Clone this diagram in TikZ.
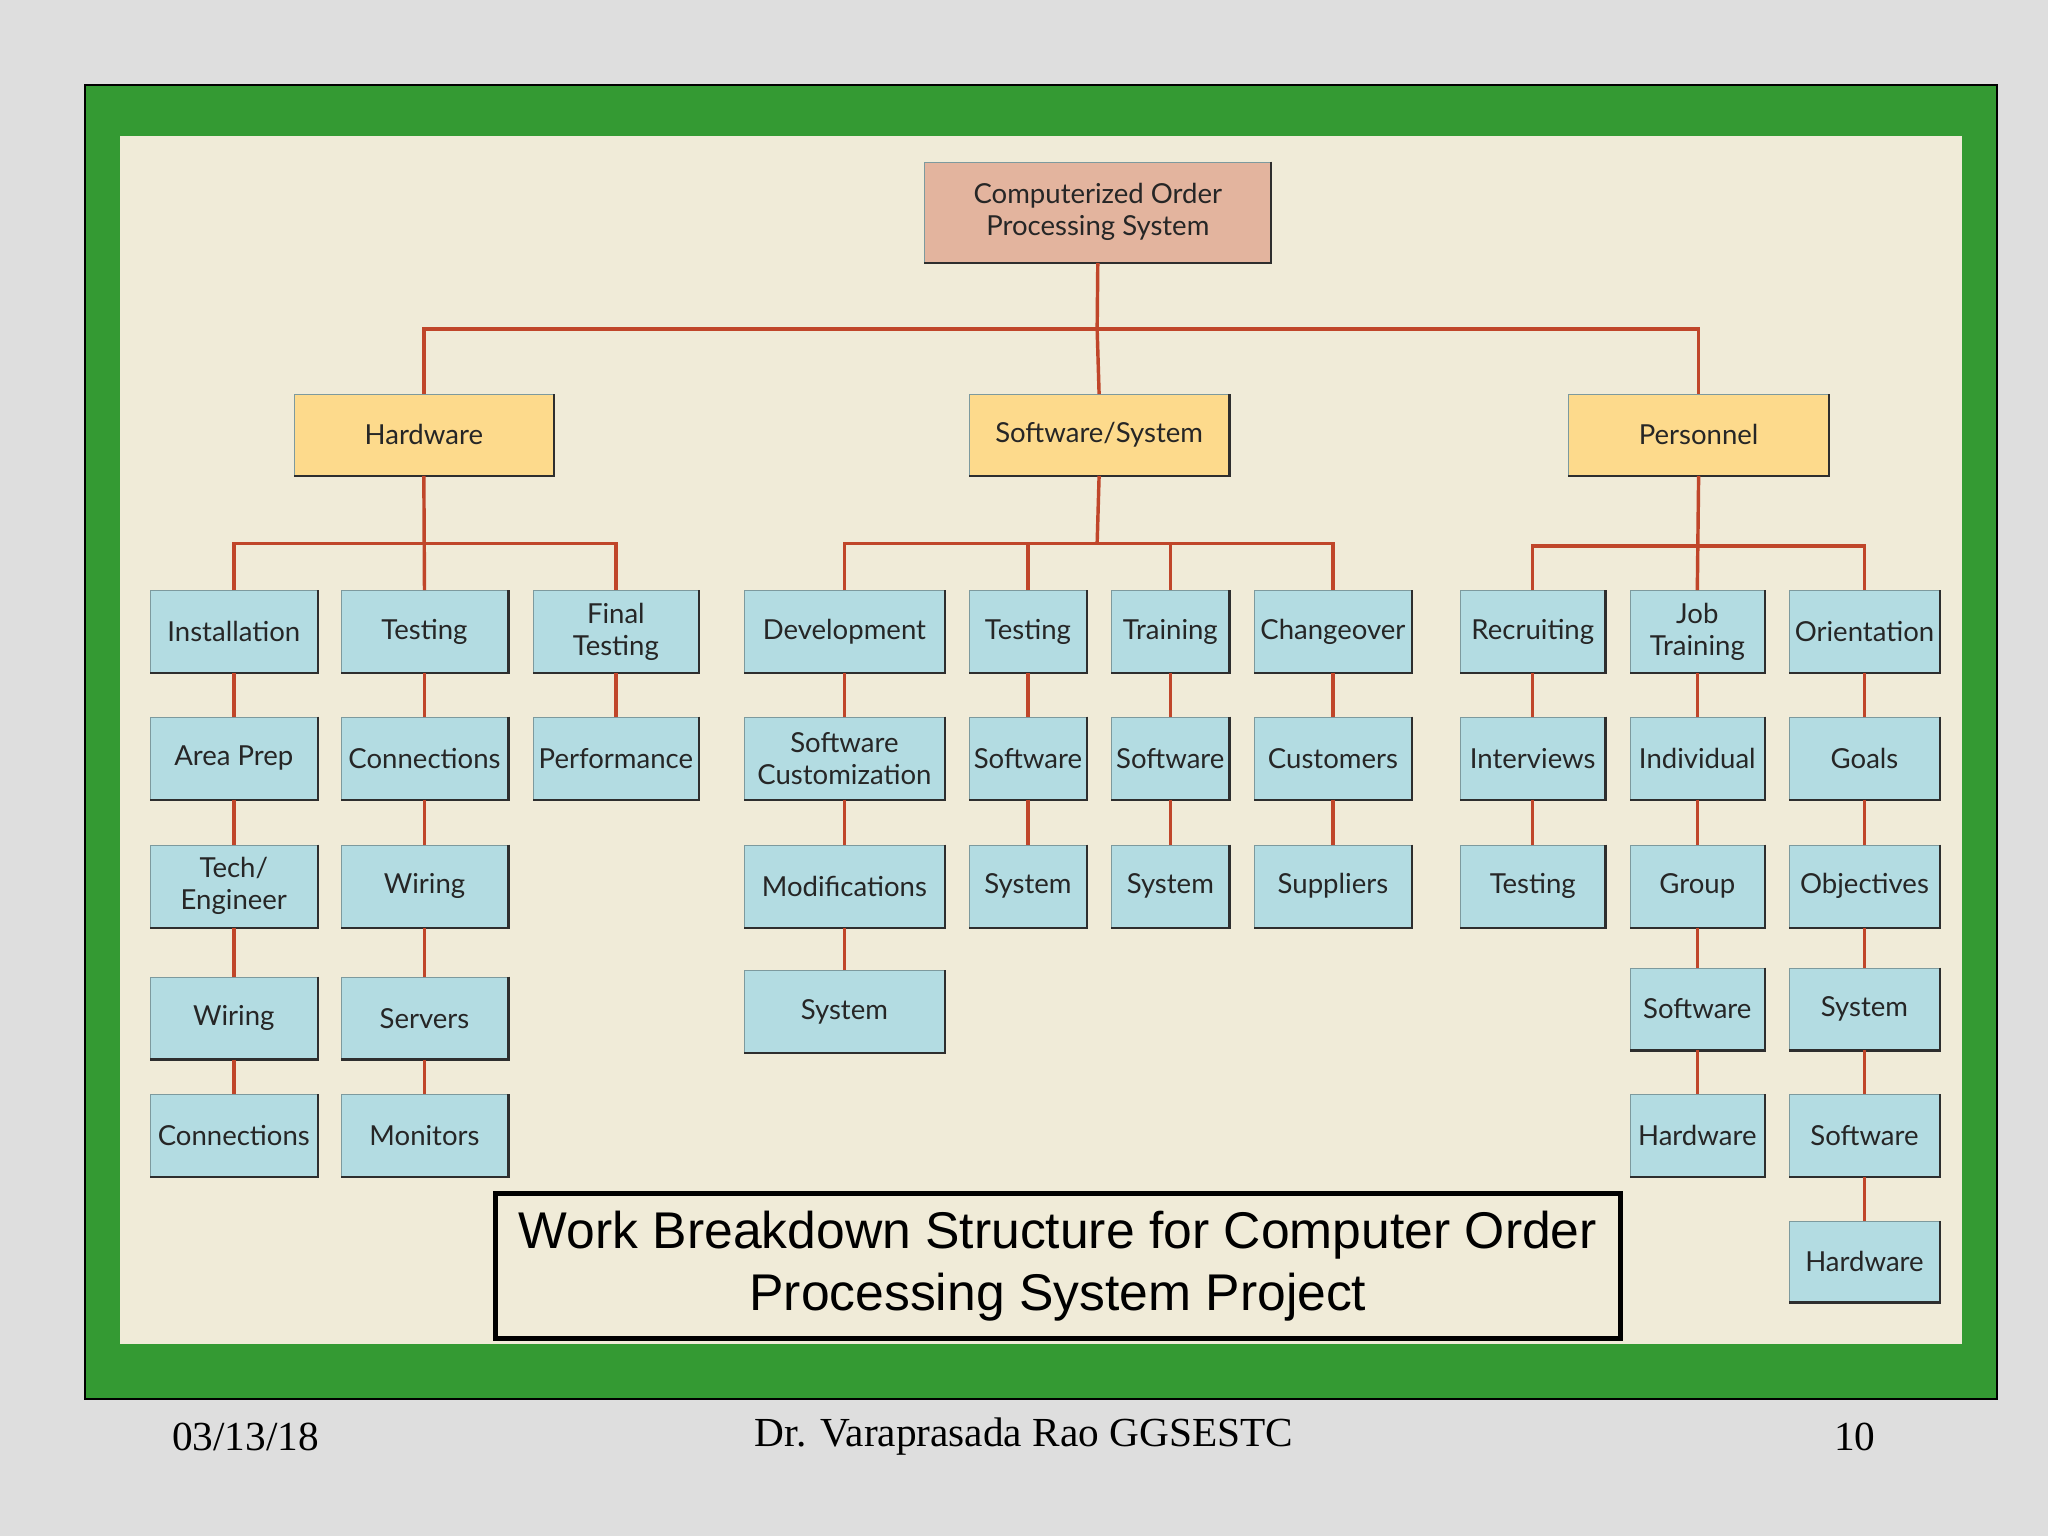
\documentclass[tikz,border=0pt]{standalone}
\usepackage{fontspec}
\setmainfont{Liberation Serif}
\newfontfamily\boxfont{Lato}
\newfontfamily\capfont{Liberation Sans}
\definecolor{bg}{HTML}{DEDEDE}
\definecolor{grn}{HTML}{349A33}
\definecolor{cream}{HTML}{F0EBD8}
\definecolor{rootc}{HTML}{E3B49E}
\definecolor{lvone}{HTML}{FDDA8C}
\definecolor{lblue}{HTML}{B3DCE2}
\definecolor{conn}{HTML}{C0462A}
\definecolor{edge}{HTML}{2E2E2E}
\tikzset{
 box/.style={draw=lblue!70!black,line width=0.3pt,inner sep=1pt,align=center,font=\boxfont\fontsize{12}{14}\selectfont,text=black!85},
 shade/.style={draw=edge,line width=1pt},
 link/.style={draw=conn,line width=1.5pt}
}
\newcommand\wbs[7]{%
 \node[box,fill=#6,minimum width={(#4-#2)*0.02cm},minimum height={(#5-#3)*0.02cm}] (#1) at ({(#2+#4)/2},{(#3+#5)/2}) {#7};
 \draw[shade] (#1.north east) -- (#1.south east) -- (#1.south west);}
\begin{document}
\begin{tikzpicture}[x=0.02cm,y=-0.02cm]
\fill[bg] (0,0) rectangle (1568,1176);
\useasboundingbox (0,0) rectangle (1568,1176);
\draw[fill=grn,draw=black,line width=0.8pt] (65,65) rectangle (1529,1071);
\fill[cream] (92,104) rectangle (1502,1029);
% root and level 1
\wbs{root}{708}{124}{973}{201}{rootc}{Computerized Order\\Processing System}
\wbs{hw}{225}{302}{424}{364}{lvone}{Hardware}
\wbs{sw}{742}{302}{941}{364}{lvone}{Software/System}
\wbs{pe}{1201}{302}{1400}{364}{lvone}{Personnel}
% hardware
\wbs{a1}{115}{452}{243}{515}{lblue}{Installation}
\wbs{a2}{115}{549}{243}{612}{lblue}{Area Prep}
\wbs{a3}{115}{647}{243}{710}{lblue}{Tech/\\Engineer}
\wbs{a4}{115}{748}{243}{811}{lblue}{Wiring}
\wbs{a5}{115}{838}{243}{901}{lblue}{Connections}
\wbs{b1}{261}{452}{389}{515}{lblue}{Testing}
\wbs{b2}{261}{549}{389}{612}{lblue}{Connections}
\wbs{b3}{261}{647}{389}{710}{lblue}{Wiring}
\wbs{b4}{261}{748}{389}{811}{lblue}{Servers}
\wbs{b5}{261}{838}{389}{901}{lblue}{Monitors}
\wbs{c1}{408}{452}{535}{515}{lblue}{Final\\Testing}
\wbs{c2}{408}{549}{535}{612}{lblue}{Performance}
% software
\wbs{d1}{570}{452}{723}{515}{lblue}{Development}
\wbs{d2}{570}{549}{723}{612}{lblue}{Software\\Customization}
\wbs{d3}{570}{647}{723}{710}{lblue}{Modifications}
\wbs{d4}{570}{743}{723}{806}{lblue}{System}
\wbs{e1}{742}{452}{832}{515}{lblue}{Testing}
\wbs{e2}{742}{549}{832}{612}{lblue}{Software}
\wbs{e3}{742}{647}{832}{710}{lblue}{System}
\wbs{f1}{851}{452}{941}{515}{lblue}{Training}
\wbs{f2}{851}{549}{941}{612}{lblue}{Software}
\wbs{f3}{851}{647}{941}{710}{lblue}{System}
\wbs{g1}{960}{452}{1081}{515}{lblue}{Changeover}
\wbs{g2}{960}{549}{1081}{612}{lblue}{Customers}
\wbs{g3}{960}{647}{1081}{710}{lblue}{Suppliers}
% personnel
\wbs{h1}{1118}{452}{1229}{515}{lblue}{Recruiting}
\wbs{h2}{1118}{549}{1229}{612}{lblue}{Interviews}
\wbs{h3}{1118}{647}{1229}{710}{lblue}{Testing}
\wbs{i1}{1248}{452}{1351}{515}{lblue}{Job\\Training}
\wbs{i2}{1248}{549}{1351}{612}{lblue}{Individual}
\wbs{i3}{1248}{647}{1351}{710}{lblue}{Group}
\wbs{i4}{1248}{741}{1351}{804}{lblue}{Software}
\wbs{i5}{1248}{838}{1351}{901}{lblue}{Hardware}
\wbs{j1}{1370}{452}{1485}{515}{lblue}{Orientation}
\wbs{j2}{1370}{549}{1485}{612}{lblue}{Goals}
\wbs{j3}{1370}{647}{1485}{710}{lblue}{Objectives}
\wbs{j4}{1370}{741}{1485}{804}{lblue}{System}
\wbs{j5}{1370}{838}{1485}{901}{lblue}{Software}
\wbs{j6}{1370}{935}{1485}{997}{lblue}{Hardware}
% connectors
\coordinate (top) at (840,252);
\draw[link] (root.south) -- (top);
\draw[link] (hw.north) -- (hw.north |- top) -- (pe.north |- top) -- (pe.north);
\draw[link] (sw.north) -- (top);
\coordinate (hb) at (324,416);
\draw[link] (hw.south) -- (b1.north);
\draw[link] (a1.north) -- (a1.north |- hb) -- (c1.north |- hb) -- (c1.north);
\coordinate (sb) at (840,416);
\draw[link] (sw.south) -- (sb);
\draw[link] (d1.north) -- (d1.north |- sb) -- (g1.north |- sb) -- (g1.north);
\draw[link] (e1.north) -- (e1.north |- sb);
\draw[link] (f1.north) -- (f1.north |- sb);
\coordinate (pb) at (1299,418);
\draw[link] (pe.south) -- (i1.north);
\draw[link] (h1.north) -- (h1.north |- pb) -- (j1.north |- pb) -- (j1.north);
\foreach \p/\q in {a1/a2,a2/a3,a3/a4,a4/a5,b1/b2,b2/b3,b3/b4,b4/b5,c1/c2,
 d1/d2,d2/d3,d3/d4,e1/e2,e2/e3,f1/f2,f2/f3,g1/g2,g2/g3,
 h1/h2,h2/h3,i1/i2,i2/i3,i3/i4,i4/i5,j1/j2,j2/j3,j3/j4,j4/j5,j5/j6}
 \draw[link] (\p.south) -- (\q.north);
% caption
\node[draw=black,line width=2.2pt,fill=cream,minimum width={862*0.02cm},minimum height={111*0.02cm},align=center,font=\capfont\fontsize{22.5}{27}\selectfont] (cap) at (810,969.5) {Work Breakdown Structure for Computer Order\\Processing System Project};
% footer
\node[font=\fontsize{18}{20}\selectfont] (date) at (188,1100) {03/13/18};
\node[font=\fontsize{18}{20}\selectfont] (auth) at (784,1100) {Dr. Varaprasada Rao GGSESTC};
\node[font=\fontsize{18}{20}\selectfont] (pg) at (1420,1100) {10};
\end{tikzpicture}
\end{document}
